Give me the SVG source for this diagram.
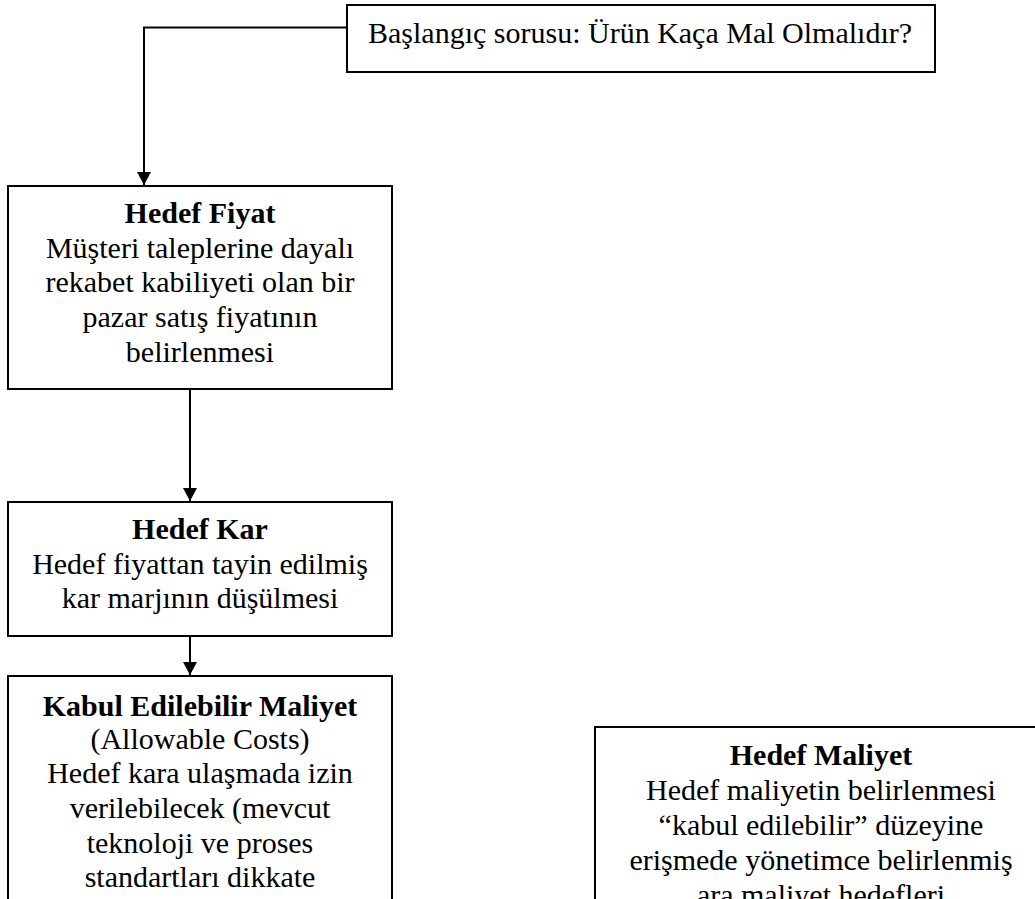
<svg xmlns="http://www.w3.org/2000/svg" width="1035" height="899" viewBox="0 0 1035 899">
<style>
.box{fill:#fff;stroke:#000;stroke-width:2}
.t{font-family:"Liberation Serif","Times New Roman",serif;font-size:30px;fill:#000;text-anchor:middle}
.b{font-weight:bold}
.c{fill:none;stroke:#000;stroke-width:2}
</style>
<defs>
<marker id="ah" markerWidth="14" markerHeight="14" refX="13" refY="7" orient="auto" markerUnits="userSpaceOnUse">
<path d="M0,0 L13,7 L0,14 Z" fill="#000"/>
</marker>
</defs>
<rect width="1035" height="899" fill="#fff"/>
<g id="connectors">
<path class="c" d="M347,27.5 H144 V185" marker-end="url(#ah)"/>
<path class="c" d="M190,389 V501" marker-end="url(#ah)"/>
<path class="c" d="M190,632 V675" marker-end="url(#ah)"/>
</g>
<g id="start">
<rect class="box" x="347" y="5" width="588" height="67"/>
<text class="t" x="368" y="43" style="text-anchor:start">Başlangıç sorusu: Ürün Kaça Mal Olmalıdır?</text>
</g>
<g id="hedef-fiyat">
<rect class="box" x="8" y="186" width="384" height="203"/>
<text class="t b" x="200" y="223">Hedef Fiyat</text>
<text class="t" x="200" y="258">Müşteri taleplerine dayalı</text>
<text class="t" x="200" y="292">rekabet kabiliyeti olan bir</text>
<text class="t" x="200" y="327">pazar satış fiyatının</text>
<text class="t" x="200" y="362">belirlenmesi</text>
</g>
<g id="hedef-kar">
<rect class="box" x="8" y="502" width="384" height="134"/>
<text class="t b" x="200" y="539">Hedef Kar</text>
<text class="t" x="200" y="574">Hedef fiyattan tayin edilmiş</text>
<text class="t" x="200" y="608">kar marjının düşülmesi</text>
</g>
<g id="kabul">
<rect class="box" x="8" y="676" width="384" height="240"/>
<text class="t b" x="200" y="716">Kabul Edilebilir Maliyet</text>
<text class="t" x="200" y="749">(Allowable Costs)</text>
<text class="t" x="200" y="783">Hedef kara ulaşmada izin</text>
<text class="t" x="200" y="818">verilebilecek (mevcut</text>
<text class="t" x="200" y="853">teknoloji ve proses</text>
<text class="t" x="200" y="887">standartları dikkate</text>
</g>
<g id="hedef-maliyet">
<rect class="box" x="595" y="727" width="452" height="200"/>
<text class="t b" x="821" y="765">Hedef Maliyet</text>
<text class="t" x="821" y="800">Hedef maliyetin belirlenmesi</text>
<text class="t" x="821" y="835">“kabul edilebilir” düzeyine</text>
<text class="t" x="821" y="870">erişmede yönetimce belirlenmiş</text>
<text class="t" x="821" y="905">ara maliyet hedefleri</text>
</g>
</svg>
